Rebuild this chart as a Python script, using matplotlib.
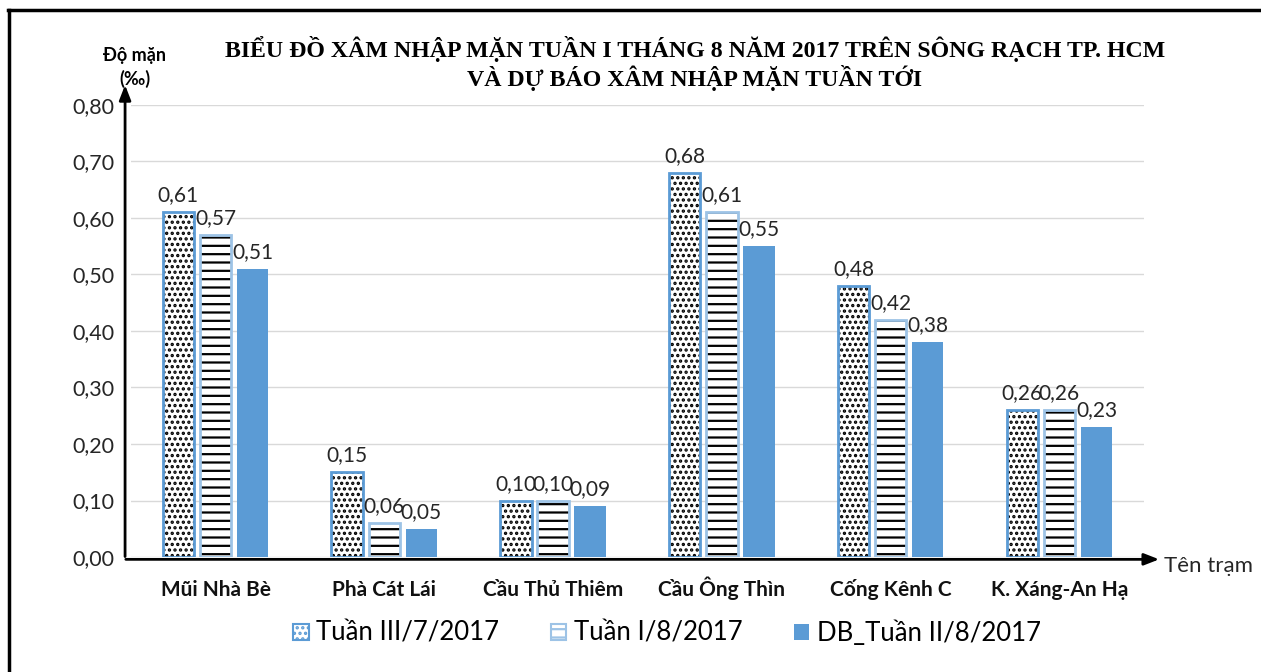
import matplotlib.pyplot as plt
import numpy as np

plt.rcParams['font.family'] = ['Lato', 'DejaVu Sans']
plt.rcParams['hatch.linewidth'] = 1.6

tram = ["Mũi Nhà Bè", "Phà Cát Lái", "Cầu Thủ Thiêm", "Cầu Ông Thìn", "Cống Kênh C", "K. Xáng-An Hạ"]
tuan3_t7 = [0.61, 0.15, 0.10, 0.68, 0.48, 0.26]
tuan1_t8 = [0.57, 0.06, 0.10, 0.61, 0.42, 0.26]
db_tuan2_t8 = [0.51, 0.05, 0.09, 0.55, 0.38, 0.23]
nhan = ["Tuần III/7/2017", "Tuần I/8/2017", "DB_Tuần II/8/2017"]
yticks = [0.0, 0.1, 0.2, 0.3, 0.4, 0.5, 0.6, 0.7, 0.8]

xanh = '#5B9BD5'
xanh_nhat = '#9DC3E6'

fig = plt.figure(figsize=(12.61, 6.72), dpi=100)
ax = fig.add_axes([0.104, 0.171, 0.803, 0.673])

x = np.arange(len(tram))
w = 0.186
d = 0.22

# hatch bars drawn twice: black pattern, then the blue outline
ax.bar(x - d, tuan3_t7, w, color='white', edgecolor='black', hatch='...', linewidth=0, zorder=2)
ax.bar(x - d, tuan3_t7, w, fill=False, edgecolor=xanh, linewidth=2, zorder=3)
ax.bar(x, tuan1_t8, w, color='white', edgecolor='black', hatch='--', linewidth=0, zorder=2)
ax.bar(x, tuan1_t8, w, fill=False, edgecolor=xanh_nhat, linewidth=2, zorder=3)
ax.bar(x + d, db_tuan2_t8, w, color=xanh, linewidth=0, zorder=2)

for off, vals in [(-d, tuan3_t7), (0, tuan1_t8), (d, db_tuan2_t8)]:
    for xi, v in zip(x + off, vals):
        ax.annotate(f"{v:.2f}".replace('.', ','), (xi, v), xytext=(0, 5), textcoords='offset points',
                    ha='center', va='bottom', fontsize=15, color='#262626')

ax.set_xlim(-0.5, 5.5)
ax.set_ylim(0, 0.8)
ax.set_yticks(yticks)
ax.set_yticklabels([f"{t:.2f}".replace('.', ',') for t in yticks], fontsize=15.5, color='#262626')
ax.set_xticks(x)
ax.set_xticklabels([])
for xi, t in zip(x, tram):
    ax.text(xi, -0.068, t, ha='center', va='baseline', fontsize=15, fontweight='bold', color='#111111')
ax.tick_params(length=0)
ax.tick_params(axis='y', pad=12)
ax.grid(axis='y', color='#d9d9d9', linewidth=1, zorder=0)
for s in ax.spines.values():
    s.set_visible(False)

# arrows for the axes
ax.annotate('', xy=(-0.006, 1.05), xytext=(-0.006, -0.005), xycoords='axes fraction',
            arrowprops=dict(arrowstyle='-|>,head_width=0.35,head_length=0.9', color='black', lw=2))
ax.annotate('', xy=(1.018, -0.005), xytext=(-0.008, -0.005), xycoords='axes fraction',
            arrowprops=dict(arrowstyle='-|>,head_width=0.35,head_length=0.9', color='black', lw=2))

fig.text(0.107, 0.9, "Độ mặn\n(‰)", ha='center', va='center', fontsize=13, fontweight='bold',
         linespacing=1.4)
fig.text(0.923, 0.157, "Tên trạm", ha='left', va='center', fontsize=16, color='#262626')
fig.text(0.551, 0.905, "BIỂU ĐỒ XÂM NHẬP MẶN TUẦN I THÁNG 8 NĂM 2017 TRÊN SÔNG RẠCH TP. HCM\n"
         "VÀ DỰ BÁO XÂM NHẬP MẶN TUẦN TỚI", ha='center', va='center', fontsize=17.2,
         fontweight='bold', family='Liberation Serif', linespacing=1.15)

h1 = plt.Rectangle((0, 0), 1, 1, facecolor='white', edgecolor=xanh, hatch='...', linewidth=1.5)
h2 = plt.Rectangle((0, 0), 1, 1, facecolor='white', edgecolor=xanh_nhat, hatch='--', linewidth=1.5)
h3 = plt.Rectangle((0, 0), 1, 1, facecolor=xanh, linewidth=0)
fig.legend([h1, h2, h3], nhan, loc='center', bbox_to_anchor=(0.529, 0.058), ncol=3, frameon=False,
           fontsize=18.5, handlelength=0.6, handleheight=0.6, handletextpad=0.3, columnspacing=2.0)

# frame left and top
fig.add_artist(plt.Line2D([0.0075, 0.0075], [0, 0.985], color='black', lw=2.5, transform=fig.transFigure))
fig.add_artist(plt.Line2D([0.0065, 1], [0.985, 0.985], color='black', lw=2.5, transform=fig.transFigure))

fig.savefig('out.png', dpi=100)
